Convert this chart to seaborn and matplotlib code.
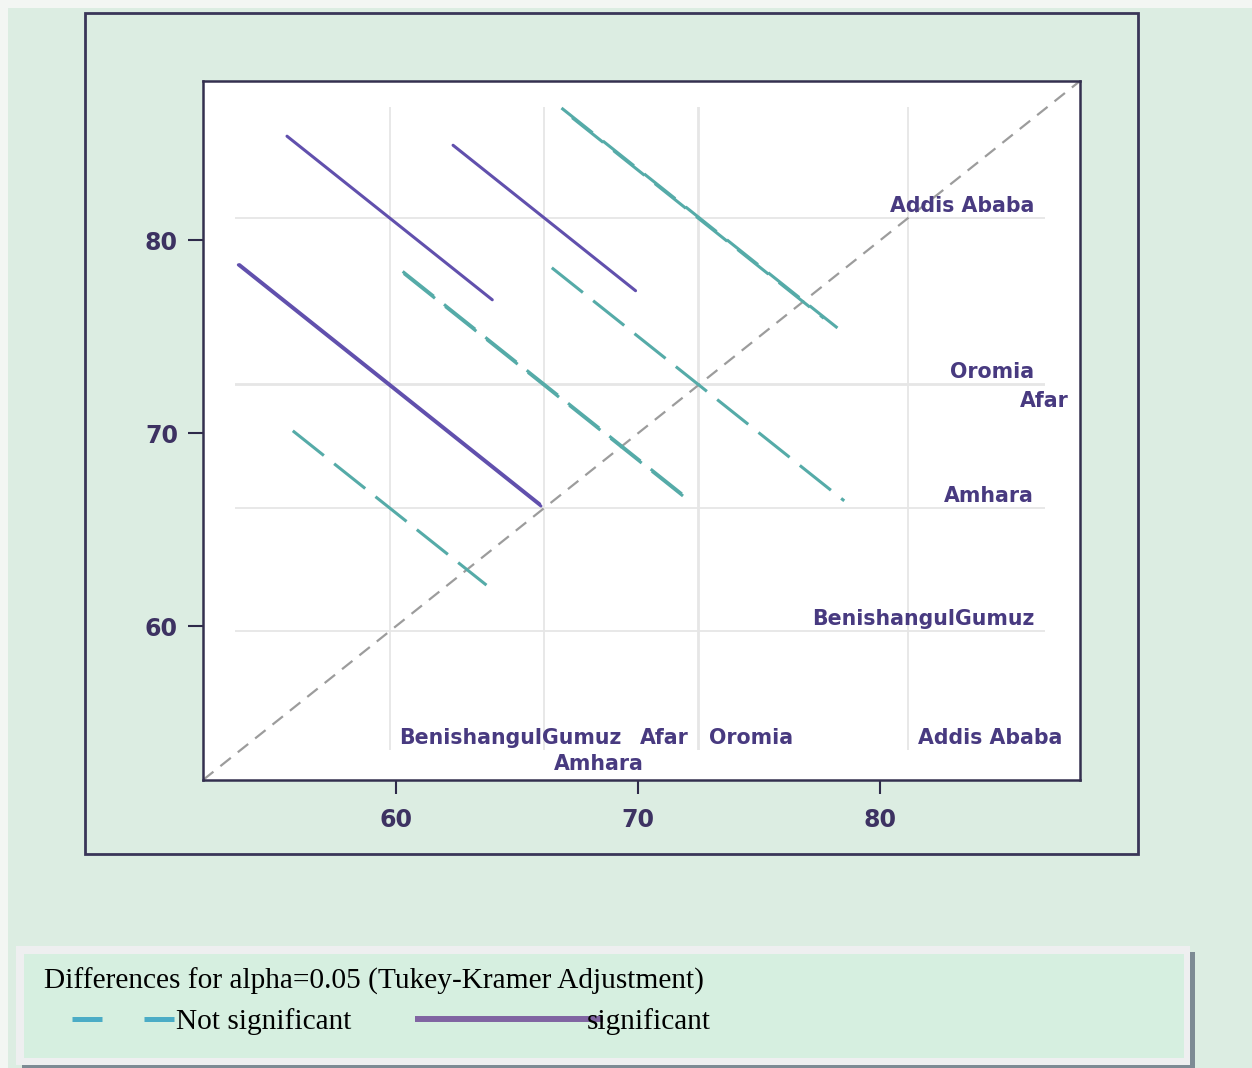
import matplotlib
matplotlib.use("Agg")
import matplotlib.pyplot as plt
from matplotlib.patches import Rectangle
from matplotlib.lines import Line2D
import numpy as np
import pandas as pd
import seaborn as sns

# Group least-squares means
groups = ["BenishangulGumuz", "Amhara", "Afar", "Oromia", "Addis Ababa"]
means = [59.73, 66.12, 72.47, 72.53, 81.15]

# Pairwise comparisons: lower-mean group, higher-mean group, half-length of the
# Tukey-Kramer interval segment, significance at alpha = 0.05
pair_low = ["BenishangulGumuz", "BenishangulGumuz", "BenishangulGumuz", "BenishangulGumuz",
            "Amhara", "Amhara", "Amhara", "Afar", "Afar", "Oromia"]
pair_high = ["Amhara", "Afar", "Oromia", "Addis Ababa",
             "Afar", "Oromia", "Addis Ababa", "Oromia", "Addis Ababa", "Addis Ababa"]
half_width = [4.00, 6.25, 6.20, 4.24, 5.80, 5.85, 3.77, 6.04, 5.20, 5.70]
significant = [False, True, True, True, False, False, True, False, False, False]

x_ticks = [60, 70, 80]
legend_title = "Differences for alpha=0.05 (Tukey-Kramer Adjustment)"
label_ns = "Not significant"
label_sig = "significant"

TEAL = "#55aba8"
PURPLE = "#6150ad"
TEXT = "#3d3262"
GROUP_TEXT = "#483a80"
BG = "#dcede2"

mean_of = dict(zip(groups, means))

# Each comparison is a slope -1 segment centred on (mean_low, mean_high)
rows = []
for lo, hi, h, sig in zip(pair_low, pair_high, half_width, significant):
    cx, cy = mean_of[lo], mean_of[hi]
    status = label_sig if sig else label_ns
    pair = f"{lo} - {hi}"
    rows.append(dict(pair=pair, x=cx - h, y=cy + h, status=status))
    rows.append(dict(pair=pair, x=cx + h, y=cy - h, status=status))
seg = pd.DataFrame(rows)

sns.set_theme(style="white")
plt.rcParams["font.family"] = ["DejaVu Sans"]

W, H = 1252, 1068
fig = plt.figure(figsize=(W / 100, H / 100), dpi=100, facecolor=BG)


def fx(px):
    return px / W


def fy(py):
    return 1 - py / H


# Light margin along the top and left edges
fig.patches.append(Rectangle((0, fy(8)), 1, fy(0) - fy(8), transform=fig.transFigure,
                             facecolor="#f3f6f3", edgecolor="none", zorder=0))
fig.patches.append(Rectangle((0, 0), fx(8), 1, transform=fig.transFigure,
                             facecolor="#f3f6f3", edgecolor="none", zorder=0))

# Outer graph frame
fig.patches.append(Rectangle((fx(85), fy(854)), fx(1138) - fx(85), fy(13) - fy(854),
                             transform=fig.transFigure, fill=False,
                             edgecolor="#3a3658", lw=2, zorder=0))

ax = fig.add_axes([fx(203), fy(780), fx(1080) - fx(203), fy(81) - fy(780)])
ax.set_facecolor("white")

lo_lim, hi_lim = 52.02, 88.25

# Reference lines at each group mean
ax.hlines(means, 53.35, 86.8, color="#e6e6e6", lw=1.3, zorder=0)
ax.vlines(means, 53.6, 86.9, color="#e6e6e6", lw=1.3, zorder=0)

# Line of equality
ax.plot([lo_lim, hi_lim], [lo_lim, hi_lim], color="#9c9c9c", lw=1.6,
        dashes=(6, 4), zorder=1)

sns.lineplot(data=seg, x="x", y="y", units="pair", estimator=None, sort=False,
             hue="status", style="status",
             palette={label_ns: TEAL, label_sig: PURPLE},
             dashes={label_ns: (13, 4.3), label_sig: ""},
             lw=2.2, legend=False, ax=ax, zorder=3)

ax.set_xlim(lo_lim, hi_lim)
ax.set_ylim(lo_lim, hi_lim)
ax.set_xticks(x_ticks)
ax.set_yticks(x_ticks)
ax.set_xlabel("")
ax.set_ylabel("")
for lab in ax.get_xticklabels() + ax.get_yticklabels():
    lab.set_fontweight("bold")
    lab.set_fontsize(17)
    lab.set_color(TEXT)
ax.tick_params(axis="x", length=10, width=1.5, color="#2e2a4a", pad=10, bottom=True)
ax.tick_params(axis="y", length=11, width=1.5, color="#2e2a4a", pad=7, left=True)
for sp in ax.spines.values():
    sp.set_color("#34304f")
    sp.set_linewidth(1.8)

# Group labels along the right side (rows) and bottom (columns)
lab_kw = dict(fontsize=14.8, fontweight="bold", color=GROUP_TEXT, zorder=4)
for g, m in zip(groups, means):
    if g == "Afar":
        ax.text(87.8, m - 0.79, g, ha="right", va="center", **lab_kw)
        ax.text(m - 0.4, 54.21, g, ha="right", va="center", **lab_kw)
    else:
        ax.text(86.35, m + 0.12, g, ha="right", va="bottom", **lab_kw)
        row_y = 52.87 if g == "Amhara" else 54.21
        ax.text(m + 0.4, row_y, g, ha="left", va="center", **lab_kw)

# Legend panel
fig.patches.append(Rectangle((fx(22), fy(1068)), fx(1195) - fx(22), fy(952) - fy(1068),
                             transform=fig.transFigure, facecolor="#7d8b94",
                             edgecolor="none", zorder=0))
fig.patches.append(Rectangle((fx(16), fy(1065)), fx(1190) - fx(16), fy(946) - fy(1065),
                             transform=fig.transFigure, facecolor="#eeeff0",
                             edgecolor="none", zorder=0))
fig.patches.append(Rectangle((fx(24), fy(1058)), fx(1184) - fx(24), fy(954) - fy(1058),
                             transform=fig.transFigure, facecolor="#d6efe0",
                             edgecolor="none", zorder=0))

serif = dict(family="Liberation Serif", fontsize=21.2, color="black", va="baseline")
fig.text(fx(44), fy(989), legend_title, **serif)
for x0, x1 in [(72, 102), (144, 174)]:
    fig.lines.append(Line2D([fx(x0), fx(x1)], [fy(1019), fy(1019)],
                            transform=fig.transFigure, color="#4bacc6", lw=3.6,
                            solid_capstyle="butt"))
fig.text(fx(176), fy(1029), label_ns, **serif)
fig.lines.append(Line2D([fx(415), fx(603)], [fy(1019), fy(1019)],
                        transform=fig.transFigure, color="#8064a2", lw=4.3,
                        solid_capstyle="butt", zorder=1))
fig.text(fx(587), fy(1029), label_sig, zorder=3, **serif)

fig.savefig("out.png", dpi=100, facecolor=BG)
